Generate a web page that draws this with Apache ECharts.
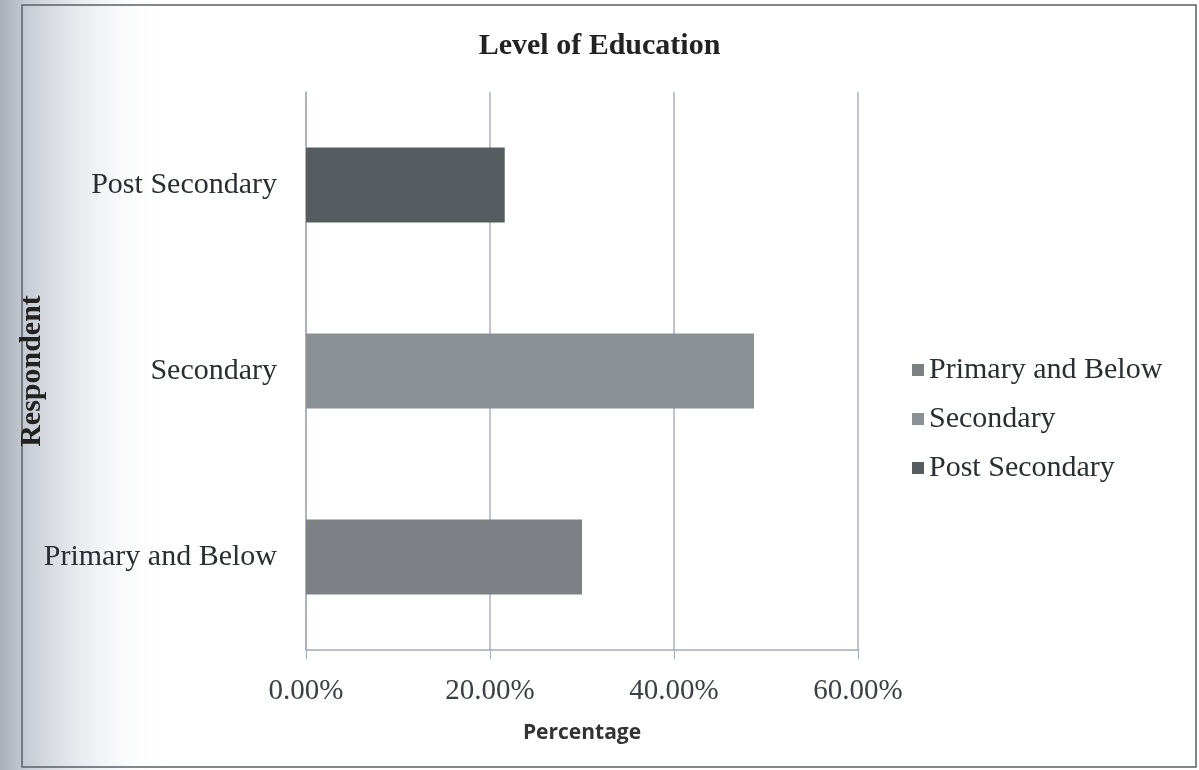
<!DOCTYPE html>
<html>
<head>
<meta charset="utf-8">
<script src="https://cdn.jsdelivr.net/npm/echarts@6/dist/echarts.min.js"></script>
<style>
  html, body { margin: 0; padding: 0; background: #fff; }
  #main { width: 1199px; height: 770px; }
</style>
</head>
<body>
<div id="main"></div>
<script>
var categories = ['Primary and Below', 'Secondary', 'Post Secondary']; // bottom to top
var values = [30.0, 48.7, 21.6]; // percent
var barColors = ['#7d8185', '#8b9095', '#565c5f'];
var xTicks = [0, 20, 40, 60];

var serif = '"Liberation Serif", "DejaVu Serif", serif';

var chart = echarts.init(document.getElementById('main'));

// one series per category, so the legend lists each level (like Excel)
var series = categories.map(function (name, i) {
  var data = categories.map(function (c, j) { return j === i ? values[i] : '-'; });
  return {
    name: name,
    type: 'bar',
    stack: 'edu',
    barWidth: 75,
    itemStyle: { color: barColors[i] },
    data: data
  };
});

var option = {
  backgroundColor: '#ffffff',
  animation: false,
  graphic: [
    {
      type: 'rect', z: -10, silent: true,
      shape: { x: 0, y: 0, width: 170, height: 770 },
      style: {
        fill: new echarts.graphic.LinearGradient(0, 0, 1, 0, [
          { offset: 0, color: '#a9aeb8' },
          { offset: 0.15, color: '#c6cad3' },
          { offset: 1, color: 'rgba(255,255,255,0)' }
        ])
      }
    },
    {
      type: 'rect', z: -5, silent: true,
      shape: { x: 22, y: 5, width: 1174, height: 762 },
      style: { fill: 'none', stroke: '#5b6066', lineWidth: 1.5 }
    }
  ],
  title: {
    text: 'Level of Education',
    left: 'center',
    top: 26,
    textStyle: { fontFamily: serif, fontWeight: 'bold', fontSize: 30, color: '#222' }
  },
  legend: {
    orient: 'vertical',
    left: 907,
    top: 350,
    itemWidth: 12,
    itemHeight: 12,
    itemGap: 19,
    icon: 'rect',
    data: categories,
    textStyle: { fontFamily: serif, fontSize: 30, color: '#2a2e33', padding: [0, 0, 0, 0] }
  },
  grid: { left: 306, right: 341, top: 92, bottom: 120 },
  xAxis: {
    type: 'value',
    min: 0,
    max: 60,
    interval: 20,
    name: 'Percentage',
    nameLocation: 'middle',
    nameGap: 73,
    nameTextStyle: { fontFamily: '"Open Sans", "Liberation Sans", sans-serif', fontWeight: 'bold', fontSize: 21, color: '#333' },
    axisLine: { show: true, lineStyle: { color: '#a4acba', width: 1.5 } },
    axisTick: { show: true, length: 9, lineStyle: { color: '#a4acba' } },
    axisLabel: {
      margin: 27,
      fontFamily: serif,
      fontSize: 29,
      color: '#3c4046',
      formatter: function (v) { return v.toFixed(2) + '%'; }
    },
    splitLine: { show: true, lineStyle: { color: '#a8b0c2', width: 1.5 } }
  },
  yAxis: {
    type: 'category',
    data: categories,
    name: 'Respondent',
    nameLocation: 'middle',
    nameGap: 259,
    nameMoveOverlap: false,
    nameRotate: 90,
    nameTextStyle: { fontFamily: serif, fontWeight: 'bold', fontSize: 30, color: '#222' },
    axisLine: { show: true, lineStyle: { color: '#a4acba', width: 1.5 } },
    axisTick: { show: false },
    axisLabel: { margin: 29, fontFamily: serif, fontSize: 30, color: '#2a2e33' }
  },
  series: series
};

chart.setOption(option);
</script>
</body>
</html>
